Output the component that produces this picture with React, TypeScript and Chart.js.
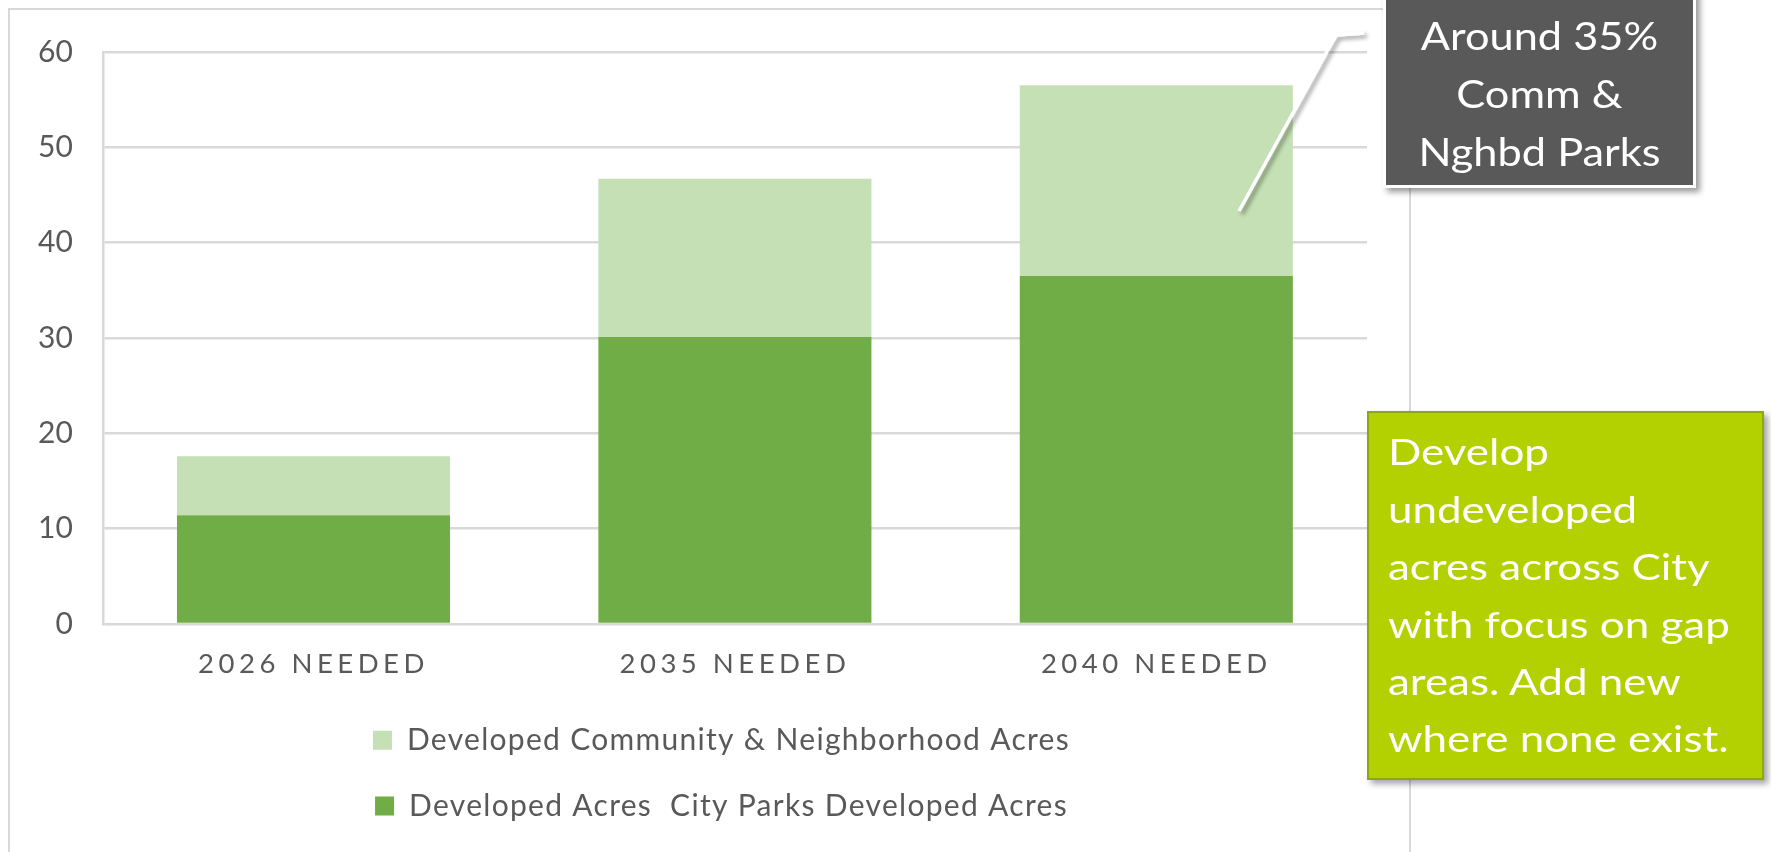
import React, { useEffect, useRef } from 'react';
import { Chart, registerables } from 'chart.js';

Chart.register(...registerables);

// ---------- data ----------
const CATEGORIES = ['2026 NEEDED', '2035 NEEDED', '2040 NEEDED'];
const CITY_PARKS_ACRES = [11.4, 30.1, 36.5];
const COMM_NGHBD_ACRES = [6.2, 16.6, 20.0];
const SERIES_CITY = 'Developed Acres  City Parks Developed Acres';
const SERIES_COMM = 'Developed Community & Neighborhood Acres';
const Y_MIN = 0;
const Y_MAX = 60;
const Y_STEP = 10;
const CALLOUT_TOP = ['Around 35%', 'Comm &', 'Nghbd Parks'];
const CALLOUT_SIDE = [
  'Develop',
  'undeveloped',
  'acres across City',
  'with focus on gap',
  'areas. Add new',
  'where none exist.',
];

// ---------- styles ----------
const FONT = 'Lato, "Open Sans", sans-serif';
const TEXT_GREY = '#595959';
const GRID_GREY = '#d9d9d9';
const DARK_GREEN = '#70ad47';
const LIGHT_GREEN = '#c5e0b4';
const X_SPACING = '4.5px';
const LEGEND_SPACING = '1.3px';

const spacingPlugin = {
  id: 'spacingPlugin',
  beforeLayout(chart: any) {
    const ctx: any = chart.ctx;
    const wrap = (fn: any, spacing: string) =>
      function (this: any, ...args: any[]) {
        const prev = ctx.letterSpacing;
        ctx.letterSpacing = spacing;
        try {
          return fn.apply(this, args);
        } finally {
          ctx.letterSpacing = prev || '0px';
        }
      };
    const lg: any = chart.legend;
    if (lg && !lg.__sp) {
      lg.__sp = true;
      lg.fit = wrap(lg.fit, LEGEND_SPACING);
      lg.draw = wrap(lg.draw, LEGEND_SPACING);
    }
    const sx: any = chart.scales && chart.scales.x;
    if (sx && !sx.__sp) {
      sx.__sp = true;
      sx.drawLabels = wrap(sx.drawLabels, X_SPACING);
    }
  },
};

export default function App() {
  const canvasRef = useRef<HTMLCanvasElement | null>(null);

  useEffect(() => {
    document.documentElement.style.overflow = 'hidden';
    document.body.style.overflow = 'hidden';
    const canvas = canvasRef.current;
    if (!canvas) return;
    const chart = new Chart(canvas, {
      type: 'bar',
      data: {
        labels: CATEGORIES,
        datasets: [
          {
            label: SERIES_CITY,
            data: CITY_PARKS_ACRES,
            backgroundColor: DARK_GREEN,
            borderWidth: 0,
            barPercentage: 0.648,
            categoryPercentage: 1,
          },
          {
            label: SERIES_COMM,
            data: COMM_NGHBD_ACRES,
            backgroundColor: LIGHT_GREEN,
            borderWidth: 0,
            barPercentage: 0.648,
            categoryPercentage: 1,
          },
        ],
      },
      options: {
        animation: false,
        responsive: false,
        layout: { padding: { top: 42, bottom: 21, left: 24, right: 0 } },
        plugins: {
          tooltip: { enabled: false },
          legend: {
            position: 'bottom',
            reverse: true,
            labels: {
              boxWidth: 19,
              boxHeight: 19,
              padding: 35.7,
              color: TEXT_GREY,
              font: { family: FONT, size: 30 },
            },
          },
        },
        scales: {
          x: {
            stacked: true,
            grid: { display: false, drawTicks: false },
            border: { display: false },
            ticks: {
              color: TEXT_GREY,
              font: { family: FONT, size: 27.5 },
              padding: 24,
              maxRotation: 0,
              autoSkip: false,
            },
            afterFit: (s: any) => {
              s.height = 65.6;
              s.paddingLeft = 0;
              s.paddingRight = 0;
            },
          },
          y: {
            stacked: true,
            min: Y_MIN,
            max: Y_MAX,
            ticks: {
              stepSize: Y_STEP,
              color: TEXT_GREY,
              font: { family: FONT, size: 30 },
              padding: 30,
            },
            grid: { color: GRID_GREY, lineWidth: 2.5, drawTicks: false },
            border: { display: true, color: GRID_GREY, width: 2.5 },
            afterFit: (s: any) => {
              s.width = 68.8;
              s.paddingTop = 0;
              s.paddingBottom = 0;
            },
          },
          yRight: {
            type: 'linear',
            position: 'right',
            display: true,
            grid: { display: false, drawTicks: false },
            border: { display: false },
            ticks: { display: false },
            afterFit: (s: any) => {
              s.width = 42;
              s.paddingTop = 0;
              s.paddingBottom = 0;
            },
          },
        },
      } as any,
      plugins: [spacingPlugin as any],
    });
    let alive = true;
    if ((document as any).fonts && (document as any).fonts.load) {
      Promise.all([(document as any).fonts.load('30px Lato')])
        .then(() => {
          if (alive) chart.update();
        })
        .catch(() => {});
    }
    return () => {
      alive = false;
      chart.destroy();
    };
  }, []);

  return (
    <div>
      <div
        style={{
          position: 'fixed',
          left: 8,
          top: 8,
          width: 1403,
          height: 860,
          border: `2px solid ${GRID_GREY}`,
          boxSizing: 'border-box',
          background: '#fff',
        }}
      />
      <canvas
        ref={canvasRef}
        width={1399}
        height={842}
        style={{ position: 'fixed', left: 10, top: 10, width: 1399, height: 842 }}
      />
      <svg
        width={1771}
        height={852}
        style={{ position: 'fixed', left: 0, top: 0, pointerEvents: 'none' }}
      >
        <defs>
          <filter id="lineShadow" x="-20%" y="-20%" width="140%" height="140%">
            <feDropShadow dx="3" dy="3" stdDeviation="2" floodColor="#000" floodOpacity="0.4" />
          </filter>
        </defs>
        <polyline
          points="1239,211 1336,35 1364,33"
          fill="none"
          stroke="#ffffff"
          strokeWidth={3.5}
          filter="url(#lineShadow)"
        />
      </svg>
      <div
        style={{
          position: 'fixed',
          left: 1383,
          top: -10,
          width: 313,
          height: 198,
          background: '#595959',
          border: '3px solid #ffffff',
          boxSizing: 'border-box',
          boxShadow: '4px 4px 6px rgba(0,0,0,0.4)',
          color: '#ffffff',
          fontFamily: FONT,
          fontSize: 38,
          lineHeight: '58.2px',
          textAlign: 'center',
          paddingTop: 12.5,
          overflow: 'hidden',
        }}
      >
        <div style={{ transform: 'scaleX(1.14)', transformOrigin: 'center' }}>
          {CALLOUT_TOP.map((t) => (
            <div key={t} style={{ whiteSpace: 'pre' }}>{t}</div>
          ))}
        </div>
      </div>
      <div
        style={{
          position: 'fixed',
          left: 1367,
          top: 411,
          width: 397,
          height: 369,
          background: '#b3d100',
          border: '2px solid #8ea80a',
          boxSizing: 'border-box',
          boxShadow: '4px 4px 6px rgba(0,0,0,0.35)',
          color: '#ffffff',
          fontFamily: FONT,
          fontSize: 36,
          lineHeight: '57.4px',
          paddingTop: 10.3,
          paddingLeft: 19,
          overflow: 'hidden',
        }}
      >
        <div style={{ transform: 'scaleX(1.22)', transformOrigin: 'left' }}>
          {CALLOUT_SIDE.map((t) => (
            <div key={t} style={{ whiteSpace: 'pre' }}>{t}</div>
          ))}
        </div>
      </div>
    </div>
  );
}
